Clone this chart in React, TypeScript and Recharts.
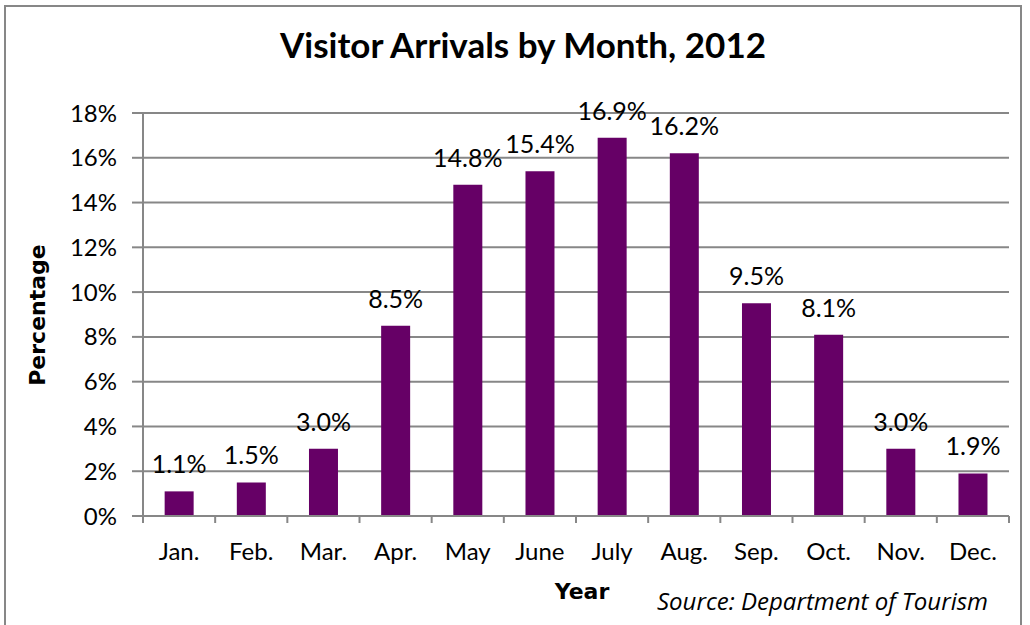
import React from "react"
import { Bar, BarChart, CartesianGrid, LabelList, XAxis, YAxis } from "recharts"

const months = ["Jan.", "Feb.", "Mar.", "Apr.", "May", "June", "July", "Aug.", "Sep.", "Oct.", "Nov.", "Dec."]
const shares = [1.1, 1.5, 3.0, 8.5, 14.8, 15.4, 16.9, 16.2, 9.5, 8.1, 3.0, 1.9]
const yTicks = [0, 2, 4, 6, 8, 10, 12, 14, 16, 18]

const data = months.map((month, i) => ({ month, share: shares[i] }))

const FONT = "Lato, 'Open Sans', sans-serif"
const WIDE = "'DejaVu Sans', sans-serif"
const AXIS = "#878787"

// ticks sit on category boundaries, like the Excel original
function MonthTick(props: any) {
  const { x, y, payload, index } = props
  const half = payload?.offset ?? 72 / 2
  const isLast = index === months.length - 1
  return (
    <g>
      <line x1={x - half} y1={y} x2={x - half} y2={y + 7} stroke={AXIS} strokeWidth={2} />
      {isLast && <line x1={x + half} y1={y} x2={x + half} y2={y + 7} stroke={AXIS} strokeWidth={2} />}
      <text x={x} y={y + 44} textAnchor="middle" fontSize={24} fontFamily={FONT} fill="#000">
        {payload.value}
      </text>
    </g>
  )
}

export default function App() {
  return (
    <div style={{ position: "fixed", left: 0, top: 0, width: 1030, height: 625, background: "#fff", overflow: "hidden" }}>
      <div
        style={{
          position: "absolute",
          left: 4,
          top: 5,
          width: 1018,
          height: 640,
          border: `2px solid ${AXIS}`,
          boxSizing: "border-box",
        }}
      />
      <BarChart
        width={1030}
        height={625}
        data={data}
        margin={{ top: 113, right: 21, left: 0, bottom: 79 }}
        barCategoryGap="30%"
        style={{ position: "absolute", left: 0, top: 0, fontFamily: FONT }}
      >
        <text x={523} y={58} textAnchor="middle" fontSize={35} fontWeight={700} fontFamily={FONT} fill="#000">
          Visitor Arrivals by Month, 2012
        </text>
        <text
          x={45}
          y={315}
          textAnchor="middle"
          fontSize={22}
          fontWeight={700}
          fontFamily={WIDE}
          fill="#000"
          transform="rotate(-90 45 315)"
        >
          Percentage
        </text>
        <text x={582} y={599} textAnchor="middle" fontSize={22} fontWeight={700} fontFamily={WIDE} fill="#000">
          Year
        </text>
        <text x={988} y={610} textAnchor="end" fontSize={24} fontStyle="italic" fontFamily="'Open Sans', sans-serif" fill="#000">
          Source: Department of Tourism
        </text>
        <CartesianGrid stroke={AXIS} strokeWidth={2} vertical={false} />
        <XAxis
          dataKey="month"
          axisLine={{ stroke: AXIS, strokeWidth: 2 }}
          tickLine={false}
          tickSize={0}
          tickMargin={0}
          tick={<MonthTick />}
          interval={0}
        />
        <YAxis
          width={143}
          domain={[0, 18]}
          ticks={yTicks}
          tickFormatter={(v: number) => `${v}%`}
          axisLine={{ stroke: AXIS, strokeWidth: 2 }}
          tickLine={{ stroke: AXIS, strokeWidth: 2 }}
          tickSize={11}
          tickMargin={15}
          tick={{ fill: "#000", fontSize: 24, fontFamily: FONT }}
        />
        <Bar dataKey="share" fill="#660066" isAnimationActive={false}>
          <LabelList
            dataKey="share"
            position="top"
            offset={18}
            formatter={(v: any) => `${Number(v).toFixed(1)}%`}
            fill="#000"
            fontSize={25}
            fontFamily={FONT}
          />
        </Bar>
      </BarChart>
    </div>
  )
}
